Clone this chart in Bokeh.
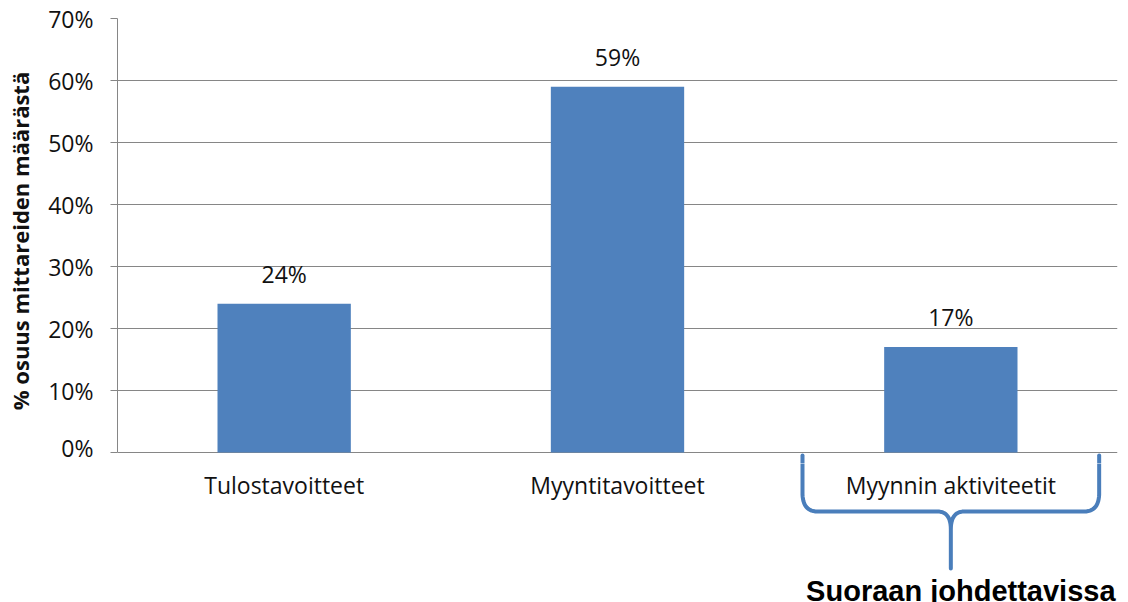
import numpy as np
from bokeh.plotting import figure
from bokeh.layouts import column
from bokeh.core.properties import value
from bokeh.models import (ColumnDataSource, FixedTicker, LabelSet,
                          NumeralTickFormatter, Range1d)
from bokeh.embed import file_html
from bokeh.resources import INLINE

categories = ["Tulostavoitteet", "Myyntitavoitteet", "Myynnin aktiviteetit"]
shares = [0.24, 0.59, 0.17]
share_labels = ["24%", "59%", "17%"]
y_ticks = [0.0, 0.1, 0.2, 0.3, 0.4, 0.5, 0.6, 0.7]
y_title = "% osuus mittareiden määrästä"
brace_text = "Suoraan johdettavissa"
brace_category = "Myynnin aktiviteetit"

FONT = "Open Sans"
BAR = "#4F81BD"
BRACE = "#4A7EBB"
GRID = "#868686"
TXT = "#111111"

# layout in pixels (page is 602 tall)
TOP, ZERO_PX, SPLIT = 18, 452, 463
px_per_unit = (ZERO_PX - TOP) / 0.7
y_low = -(SPLIT - ZERO_PX) / px_per_unit

src = ColumnDataSource(dict(cat=categories, val=shares, lab=share_labels))

# ---------------- main chart ----------------
p = figure(x_range=categories, y_range=(y_low, 0.7), width=1128, height=SPLIT,
           output_backend="svg", toolbar_location=None, x_axis_location=None,
           min_border_left=117, min_border_right=11, min_border_top=TOP,
           min_border_bottom=0)
p.outline_line_color = None
p.x_range.range_padding = 0

p.vbar(x="cat", top="val", width=0.4, source=src, color=BAR, line_color=None)

p.add_layout(LabelSet(x="cat", y="val", text="lab", source=src,
                      text_align="center", text_baseline="middle",
                      y_offset=30, text_font=value(FONT),
                      text_font_size="23px", text_color=TXT))

ya = p.yaxis[0]
ya.ticker = FixedTicker(ticks=y_ticks)
ya.bounds = (0, 0.7)
ya.formatter = NumeralTickFormatter(format="0%")
ya.major_tick_out = 7
ya.major_tick_in = 0
ya.minor_tick_line_color = None
ya.axis_line_color = GRID
ya.major_tick_line_color = GRID
ya.major_label_text_font = FONT
ya.major_label_text_font_size = "23px"
ya.major_label_text_color = TXT
ya.major_label_standoff = 17
ya.axis_label = y_title
ya.axis_label_text_font = FONT
ya.axis_label_text_font_style = "bold"
ya.axis_label_text_font_size = "22px"
ya.axis_label_text_color = TXT
ya.axis_label_standoff = 10

p.xgrid.grid_line_color = None
p.ygrid.ticker = FixedTicker(ticks=y_ticks)
p.ygrid.grid_line_color = GRID

c = categories.index(brace_category) + 0.5
hw = 0.445
# top stubs of the brace that fall inside the chart strip
stub_top = -(455 - ZERO_PX) / px_per_unit
p.segment(x0=[c - hw, c + hw], y0=[stub_top, stub_top],
          x1=[c - hw, c + hw], y1=[y_low - 0.01, y_low - 0.01],
          line_color=BRACE, line_width=4, line_cap="round")

# ---------------- strip under the chart: category labels + brace ----------------
# y of this strip is measured in pixels from the top of the page
q = figure(x_range=p.x_range, y_range=Range1d(602, SPLIT), width=1128,
           height=602 - SPLIT, output_backend="svg", toolbar_location=None,
           x_axis_location=None, y_axis_location=None,
           min_border_left=117, min_border_right=11, min_border_top=0,
           min_border_bottom=0)
q.outline_line_color = None
q.xgrid.grid_line_color = None
q.ygrid.grid_line_color = None

q.text(x=categories, y=[484] * len(categories), text=categories,
       text_align="center", text_baseline="alphabetic",
       text_font=value(FONT), text_font_size="23px", text_color=TXT)

def quad(p0, p1, p2, n=14):
    t = np.linspace(0, 1, n)[:, None]
    p0, p1, p2 = map(np.array, (p0, p1, p2))
    return (1 - t) ** 2 * p0 + 2 * (1 - t) * t * p1 + t ** 2 * p2

left = np.vstack([
    [[c - hw, SPLIT - 4]],
    quad((c - hw, 494), (c - hw + 0.002, 511), (c - hw + 0.045, 511)),
    quad((c - 0.04, 511), (c, 511), (c, 529)),
    [[c, 568]],
])
right = left[::-1].copy()
right[:, 0] = 2 * c - right[:, 0]
path = np.vstack([left, right[1:]])
q.line(x=path[:, 0], y=path[:, 1], line_color=BRACE, line_width=4,
       line_join="round", line_cap="round")

q.text(x=[c + 0.03], y=[590], text=[brace_text], text_align="center",
       text_baseline="alphabetic", text_font=value("Liberation Sans"),
       text_font_style="bold", text_font_size="29px", text_color="black")

layout = column(p, q, spacing=0)
open("out.html", "w").write(file_html(layout, INLINE))
